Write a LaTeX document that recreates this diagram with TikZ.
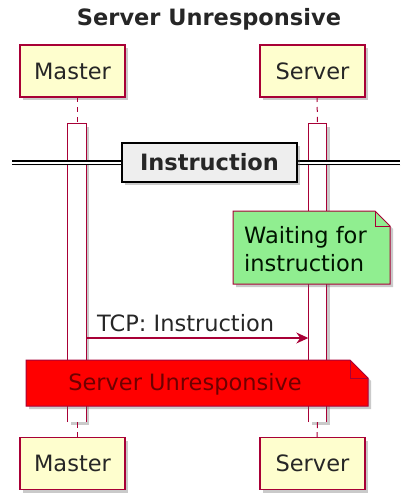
\documentclass[tikz,border=0pt]{standalone}
\usepackage{fontspec}
\setmainfont{DejaVu Sans}
\usetikzlibrary{shadows,arrows.meta,calc}
\definecolor{puborder}{HTML}{A80036}
\definecolor{pufill}{HTML}{FEFECE}
\definecolor{notegreen}{HTML}{90EE90}
\definecolor{notered}{HTML}{FF0000}
\definecolor{darkredtext}{HTML}{6E0000}
\definecolor{divfill}{HTML}{EEEEEE}
\tikzset{
  shad/.style={drop shadow={shadow xshift=3pt,shadow yshift=-3pt,opacity=0.35,fill=black!60}},
  participant/.style={draw=puborder,line width=1.3pt,fill=pufill,minimum width=105pt,minimum height=52pt,inner sep=0pt,shad,font=\fontsize{22.5}{27}\selectfont,text=black!85},
  act/.style={fill=white,minimum width=18pt,minimum height=298pt,inner sep=0pt,shad},
  actedge/.style={draw=puborder,line width=1.1pt},
  lifeline/.style={draw=puborder,line width=1pt,dash pattern=on 5pt off 5pt},
  msg/.style={draw=puborder,line width=1.1pt,-{Stealth[length=12pt,width=11pt,inset=4pt]}},
  txt/.style={font=\fontsize{22.5}{28}\selectfont,inner sep=0pt},
}
\begin{document}
\begin{tikzpicture}[x=1pt,y=-1pt]
\useasboundingbox (0,0) rectangle (400,495);
% title
\node[txt,font=\fontsize{22.5}{27}\selectfont\bfseries,text=black!85] (title) at (209,19) {Server Unresponsive};
% participants
\node[participant] (m1) at (72.5,71) {Master};
\node[participant] (s1) at (312.5,71) {Server};
\node[participant] (m2) at (72.5,463.5) {Master};
\node[participant] (s2) at (312.5,463.5) {Server};
% lifeline anchors
\coordinate (mtop) at (77,97);
\coordinate (stop) at (317,97);
\coordinate (mbot) at (77,437);
\coordinate (sbot) at (317,437);
% activations
\node[act] (ma) at (77,273) {};
\node[act] (sa) at (317.5,273) {};
\draw[actedge] (ma.south west) -- (ma.north west) -- (ma.north east) -- (ma.south east);
\draw[actedge] (sa.south west) -- (sa.north west) -- (sa.north east) -- (sa.south east);
\draw[lifeline] (mtop) -- (ma.north);
\draw[lifeline] (stop) -- (sa.north);
\draw[lifeline,dash pattern=on 6pt off 4pt] (ma.south) -- (mbot);
\draw[lifeline,dash pattern=on 6pt off 4pt] (sa.south) -- (sbot);
% divider
\coordinate (dl) at (12,162.5);
\coordinate (dr) at (400,162.5);
\draw[black,line width=1.2pt,double=white,double distance=2pt,shad] (dl) -- (dr);
\node[draw=black,line width=1.6pt,fill=divfill,minimum width=175pt,minimum height=39pt,inner sep=0pt,shad,font=\fontsize{22.5}{27}\selectfont\bfseries,text=black!85] (div) at (209.5,162.5) {Instruction};
% green note
\coordinate (gn) at (233,211);
\fill[black!60,opacity=0.35] ($(gn)+(3,3)$) -- ++(142,0) -- ++(15,15) -- ++(0,58) -- ++(-157,0) -- cycle;
\draw[puborder,line width=1pt,fill=notegreen] (gn) -- ++(142,0) -- ++(15,15) -- ++(0,58) -- ++(-157,0) -- cycle;
\draw[puborder,line width=1pt] ($(gn)+(142,0)$) -- ++(0,15) -- ++(15,0);
\node[txt,align=left,anchor=west,text=black!80!green!40!black] (gtext) at (244,249) {Waiting for\\instruction};
% message
\coordinate (msgy) at (0,338);
\draw[msg] (ma.east |- msgy) -- (sa.west |- msgy);
\node[txt,anchor=base west,text=black!85] (mlabel) at (97,331) {TCP: Instruction};
% red note
\coordinate (rn) at (26,360);
\fill[black!60,opacity=0.35] ($(rn)+(3,3)$) -- ++(324,0) -- ++(18,18) -- ++(0,28) -- ++(-342,0) -- cycle;
\draw[puborder,line width=1pt,fill=notered] (rn) -- ++(324,0) -- ++(18,18) -- ++(0,28) -- ++(-342,0) -- cycle;
\draw[puborder,line width=1pt] ($(rn)+(324,0)$) -- ++(0,18) -- ++(18,0);
\node[txt,text=darkredtext] (rtext) at (185,384) {Server Unresponsive};
\end{tikzpicture}
\end{document}
